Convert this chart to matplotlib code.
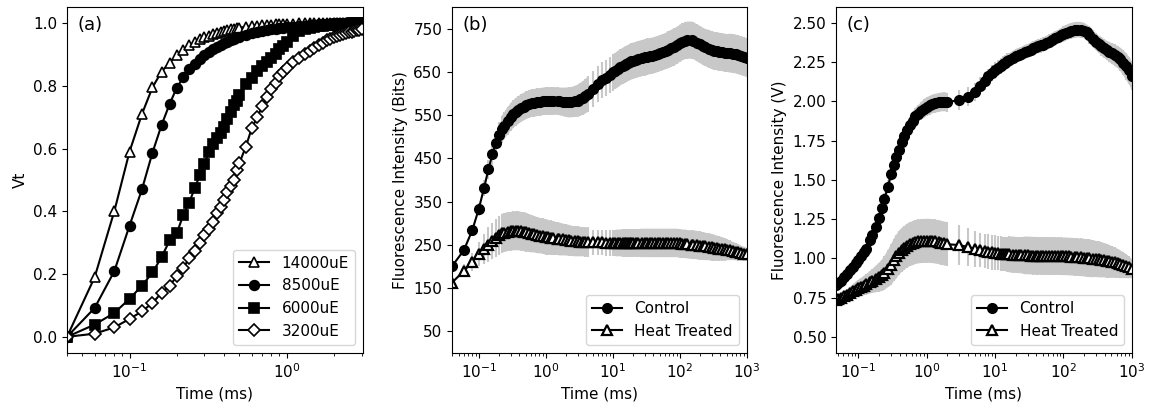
"""
OJIP : Vt normalise selon l'intensite lumineuse (a), puis courbes brutes
Control / Heat Treated avec ecart-type, en Bits (b) et en Volts (c).
"""

import numpy as np
import matplotlib
matplotlib.use("Agg")
import matplotlib.pyplot as plt

plt.rcParams["font.size"] = 11

GRIS = "#c8c8c8"

# ---------------- (a) Vt pour 4 intensites ----------------
t_a = [0.04, 0.06, 0.08, 0.10, 0.12, 0.14, 0.16, 0.18, 0.20, 0.22, 0.24, 0.26,
       0.28, 0.30, 0.32, 0.34, 0.36, 0.38, 0.40, 0.42, 0.44, 0.46, 0.48, 0.50,
       0.55, 0.60, 0.65, 0.70, 0.75, 0.80, 0.85, 0.90, 0.95, 1.0,
       1.1, 1.2, 1.3, 1.4, 1.5, 1.6, 1.7, 1.8, 1.9, 2.0,
       2.1, 2.2, 2.3, 2.4, 2.5, 2.6, 2.7, 2.8, 2.9, 3.0]

vt_14000 = [0, 0.19, 0.40, 0.59, 0.71, 0.795, 0.845, 0.874, 0.898, 0.915, 0.929, 0.94,
            0.948, 0.955, 0.96, 0.965, 0.969, 0.972, 0.975, 0.978, 0.98, 0.982, 0.984, 0.985,
            0.988, 0.99, 0.992, 0.993, 0.994, 0.995, 0.996, 0.997, 0.997, 0.998,
            0.998, 0.999, 1.0, 0.999, 1.0, 1.0, 0.999, 1.0, 1.0, 0.999,
            1.0, 1.0, 1.0, 0.999, 1.0, 1.0, 0.999, 0.998, 0.999, 1.0]
vt_8500 = [0, 0.092, 0.209, 0.354, 0.47, 0.587, 0.675, 0.742, 0.794, 0.827, 0.852, 0.87,
           0.885, 0.897, 0.907, 0.916, 0.924, 0.93, 0.936, 0.941, 0.946, 0.95, 0.954, 0.957,
           0.963, 0.968, 0.972, 0.975, 0.978, 0.98, 0.982, 0.984, 0.985, 0.986,
           0.988, 0.99, 0.992, 0.994, 0.995, 0.996, 0.997, 0.998, 0.998, 0.999,
           1.0, 0.999, 1.0, 1.0, 0.999, 1.0, 1.0, 0.999, 1.0, 1.0]
vt_6000 = [0, 0.039, 0.076, 0.121, 0.163, 0.205, 0.254, 0.307, 0.33, 0.389, 0.428, 0.474,
           0.515, 0.55, 0.59, 0.615, 0.633, 0.65, 0.67, 0.695, 0.718, 0.738, 0.752, 0.77,
           0.805, 0.826, 0.848, 0.862, 0.876, 0.89, 0.902, 0.916, 0.928, 0.94,
           0.96, 0.975, 0.98, 0.985, 0.988, 0.99, 0.992, 0.993, 0.994, 0.995,
           0.996, 0.997, 0.997, 0.998, 0.998, 0.999, 0.999, 1.0, 1.0, 1.0]
vt_3200 = [0, 0.01, 0.03, 0.057, 0.081, 0.108, 0.14, 0.163, 0.193, 0.219, 0.251, 0.275,
           0.30, 0.325, 0.345, 0.366, 0.395, 0.415, 0.436, 0.46, 0.48, 0.5, 0.532, 0.553,
           0.606, 0.665, 0.70, 0.735, 0.765, 0.79, 0.808, 0.83, 0.845, 0.857,
           0.875, 0.887, 0.9, 0.912, 0.922, 0.93, 0.937, 0.945, 0.95, 0.955,
           0.958, 0.962, 0.965, 0.968, 0.97, 0.973, 0.975, 0.977, 0.979, 0.981]

# ---------------- (b) intensite en Bits ----------------
t_b = [0.04, 0.06, 0.08, 0.10, 0.12, 0.14, 0.16, 0.18, 0.20,
       0.22, 0.24, 0.27, 0.30, 0.33, 0.36, 0.39, 0.43, 0.47, 0.51,
       0.56, 0.62, 0.68, 0.75, 0.82, 0.91, 1.0, 1.1, 1.2, 1.3,
       1.5, 1.6, 1.8, 2.0, 2.2, 2.4, 2.7, 3.0, 3.3, 3.6, 3.9, 4.3,
       5, 6, 7, 8, 9, 10,
       11, 12, 13, 14, 15, 16, 17, 18, 19, 20,
       22, 24, 27, 30, 33, 36, 39, 43, 47, 51,
       56, 62, 68, 75, 82, 91, 100, 110, 120, 130,
       150, 160, 180, 200, 220, 240, 270, 300, 330, 360,
       390, 430, 470, 510, 560, 620, 680, 750, 820, 910, 1000]
ctrl_b = [200, 237, 283, 332, 381, 425, 460, 486, 504,
          517, 526, 537, 546, 553, 558, 562, 567, 570, 573,
          576, 578, 579, 580, 581, 582, 583, 583, 583, 583,
          583, 582, 581, 580, 580, 580, 582, 584, 587, 590, 594, 599,
          610, 622, 631, 637, 644, 649,
          653, 657, 661, 664, 667, 669, 671, 673, 675, 676,
          678, 680, 682, 684, 686, 687, 688, 690, 692, 694,
          696, 699, 702, 705, 708, 712, 717, 720, 723, 724,
          724, 723, 718, 714, 710, 707, 704, 701, 699, 698,
          697, 696, 695, 694, 694, 693, 692, 690, 688, 686, 683]
ctrl_b_err = [8, 10, 12, 15, 18, 22, 25, 28, 30,
              31, 31, 32, 32, 32, 32, 32, 32, 32, 32,
              32, 32, 32, 32, 32, 32, 32, 32, 32, 32,
              32, 32, 33, 34, 35, 35, 36, 37, 38, 39, 40, 41,
              42, 42, 42, 42, 42, 42,
              42, 42, 42, 42, 42, 42, 42, 42, 42, 42,
              42, 42, 42, 42, 42, 42, 42, 42, 42, 42,
              42, 42, 43, 43, 43, 43, 43, 43, 43, 43,
              43, 43, 43, 43, 43, 43, 44, 44, 44, 44,
              44, 44, 44, 44, 45, 45, 45, 45, 45, 45, 45]
heat_b = [162, 189, 210, 228, 240, 250, 258, 266, 272,
          276, 278, 280, 281, 282, 282, 282, 281, 280, 279,
          277, 275, 274, 272, 271, 270, 268, 267, 266, 265,
          264, 263, 262, 261, 260, 259, 258, 258, 257, 257, 256, 256,
          255, 255, 255, 254, 254, 254,
          254, 254, 254, 254, 254, 254, 254, 254, 254, 254,
          254, 254, 254, 254, 254, 254, 254, 254, 254, 254,
          254, 254, 254, 254, 254, 254, 253, 252, 252, 251,
          250, 250, 249, 248, 247, 246, 245, 244, 243, 242,
          241, 240, 239, 238, 237, 235, 234, 232, 231, 229, 228]
heat_b_err = [12, 15, 20, 28, 35, 40, 42, 44, 45,
              45, 45, 45, 45, 45, 45, 45, 45, 45, 45,
              44, 43, 42, 42, 41, 41, 41, 40, 40, 39,
              38, 38, 37, 36, 36, 35, 35, 35, 34, 34, 34, 34,
              30, 30, 30, 30, 30, 30,
              31, 31, 31, 32, 32, 32, 32, 32, 32, 32,
              32, 32, 33, 33, 33, 33, 33, 33, 33, 33,
              33, 33, 33, 33, 33, 33, 33, 33, 33, 33,
              33, 33, 33, 33, 32, 32, 31, 31, 30, 29,
              28, 27, 26, 24, 23, 21, 20, 19, 17, 16, 15]

# ---------------- (c) intensite en Volts ----------------
t_c = [0.047, 0.051, 0.056, 0.062, 0.068, 0.075, 0.082, 0.091, 0.10, 0.11,
       0.12, 0.13, 0.15, 0.16, 0.18, 0.20, 0.22, 0.24, 0.27, 0.30,
       0.33, 0.36, 0.39, 0.43, 0.47, 0.51, 0.56, 0.62, 0.68, 0.75,
       0.82, 0.91, 1.0, 1.1, 1.2, 1.3, 1.5, 1.6, 1.8, 2.0,
       3, 4, 5, 6, 7, 8, 9, 10, 11, 12, 13, 14, 15,
       16, 18, 20,
       22, 24, 27, 30, 33, 36, 39, 43, 47, 51,
       56, 62, 68, 75, 82, 91, 100, 110, 120, 130,
       150, 160, 180, 200, 220, 240, 270, 300, 330, 360,
       390, 430, 470, 510, 560, 620, 680, 750, 820, 910, 1000]
ctrl_c = [0.83, 0.843, 0.858, 0.884, 0.902, 0.927, 0.945, 0.968, 0.99, 1.012,
          1.038, 1.062, 1.115, 1.147, 1.203, 1.26, 1.32, 1.38, 1.458, 1.535,
          1.597, 1.645, 1.69, 1.743, 1.782, 1.818, 1.85, 1.878, 1.905, 1.922,
          1.94, 1.955, 1.967, 1.975, 1.984, 1.988, 1.994, 1.997, 1.998, 1.995,
          2.01, 2.03, 2.06, 2.1, 2.13, 2.16, 2.18, 2.2, 2.215, 2.228, 2.238, 2.248, 2.256,
          2.262, 2.275, 2.29,
          2.297, 2.303, 2.315, 2.322, 2.33, 2.34, 2.345, 2.352, 2.357, 2.363,
          2.373, 2.382, 2.392, 2.402, 2.41, 2.421, 2.43, 2.439, 2.446, 2.451,
          2.457, 2.458, 2.457, 2.452, 2.44, 2.423, 2.4, 2.38, 2.365, 2.351,
          2.339, 2.327, 2.315, 2.306, 2.296, 2.283, 2.268, 2.247, 2.225, 2.198, 2.165]
ctrl_c_err = [0.02, 0.02, 0.02, 0.02, 0.02, 0.02, 0.02, 0.02, 0.02, 0.02,
              0.025, 0.025, 0.03, 0.03, 0.03, 0.03, 0.035, 0.035, 0.04, 0.04,
              0.04, 0.045, 0.045, 0.045, 0.05, 0.05, 0.05, 0.055, 0.055, 0.055,
              0.055, 0.06, 0.06, 0.06, 0.06, 0.06, 0.06, 0.06, 0.06, 0.06,
              0.065, 0.06, 0.06, 0.055, 0.055, 0.05, 0.05, 0.05, 0.05, 0.05, 0.05, 0.05, 0.05,
              0.045, 0.045, 0.045,
              0.045, 0.045, 0.045, 0.045, 0.045, 0.045, 0.045, 0.045, 0.045, 0.045,
              0.045, 0.045, 0.045, 0.045, 0.045, 0.045, 0.05, 0.05, 0.05, 0.05,
              0.05, 0.05, 0.05, 0.05, 0.05, 0.055, 0.055, 0.055, 0.055, 0.06,
              0.06, 0.06, 0.065, 0.065, 0.07, 0.07, 0.075, 0.08, 0.085, 0.088, 0.09]
heat_c = [0.733, 0.741, 0.75, 0.761, 0.769, 0.78, 0.789, 0.801, 0.81, 0.818,
          0.827, 0.835, 0.849, 0.856, 0.869, 0.88, 0.892, 0.908, 0.934, 0.96,
          0.99, 1.012, 1.035, 1.054, 1.067, 1.08, 1.09, 1.097, 1.104, 1.108,
          1.11, 1.112, 1.112, 1.112, 1.11, 1.108, 1.103, 1.1, 1.095, 1.09,
          1.085, 1.072, 1.062, 1.054, 1.048, 1.043, 1.039, 1.036, 1.033, 1.031, 1.029,
          1.027, 1.026,
          1.025, 1.024, 1.022,
          1.021, 1.02, 1.019, 1.019, 1.018, 1.017, 1.017, 1.016, 1.016, 1.016,
          1.015, 1.015, 1.015, 1.015, 1.014, 1.014, 1.013, 1.013, 1.012, 1.011,
          1.009, 1.008, 1.007, 1.005, 1.003, 1.001, 0.998, 0.996, 0.994, 0.991,
          0.989, 0.985, 0.982, 0.978, 0.974, 0.968, 0.962, 0.957, 0.951, 0.943, 0.935]
heat_c_err = [0.02, 0.022, 0.026, 0.03, 0.034, 0.04, 0.044, 0.05, 0.055, 0.058,
              0.062, 0.066, 0.072, 0.076, 0.085, 0.092, 0.1, 0.108, 0.118, 0.13,
              0.135, 0.14, 0.14, 0.14, 0.14, 0.14, 0.14, 0.14, 0.14, 0.14,
              0.14, 0.14, 0.14, 0.14, 0.14, 0.14, 0.14, 0.14, 0.14, 0.14,
              0.13, 0.12, 0.115, 0.11, 0.11, 0.11, 0.11, 0.11, 0.11, 0.11, 0.11, 0.11, 0.11,
              0.115, 0.115, 0.115,
              0.115, 0.115, 0.12, 0.12, 0.12, 0.12, 0.12, 0.12, 0.12, 0.12,
              0.12, 0.12, 0.12, 0.12, 0.12, 0.12, 0.12, 0.12, 0.12, 0.12,
              0.12, 0.12, 0.12, 0.12, 0.12, 0.12, 0.118, 0.115, 0.115, 0.112,
              0.11, 0.107, 0.104, 0.1, 0.097, 0.093, 0.088, 0.083, 0.077, 0.07, 0.06]

# zones ou l'echantillonnage est lache (barres d'erreur separees), en ms
TROU_B = (4.5, 10.5)
TROU_C = (2.5, 15.5)
DEBUT_DENSE_B = 0.21


def tracer_erreur(ax, t, y, err, trou, debut=0.0):
    t, y, err = np.asarray(t), np.asarray(y), np.asarray(err)
    ax.errorbar(t, y, yerr=err, fmt="none", ecolor=GRIS, elinewidth=1.5, zorder=1)
    dense = ((t < trou[0]) | (t > trou[1])) & (t >= debut)
    ax.fill_between(t, y - err, y + err, where=dense, color=GRIS, lw=0, zorder=1)


fig = plt.figure(figsize=(11.57, 4.08), dpi=100)
bas, haut = 0.136, 0.846
ax_a = fig.add_axes([0.0579, bas, 0.2556, haut])
ax_b = fig.add_axes([0.3907, bas, 0.2547, haut])
ax_c = fig.add_axes([0.7226, bas, 0.2556, haut])

# (a)
styles_a = [(vt_14000, "^", "white", 7, "14000uE"),
            (vt_8500, "o", "black", 7, "8500uE"),
            (vt_6000, "s", "black", 6.5, "6000uE"),
            (vt_3200, "D", "white", 6, "3200uE")]
for vals, mk, face, taille, lab in styles_a:
    ax_a.plot(t_a, vals, color="black", lw=1.5, marker=mk, ms=taille,
              mfc=face, mec="black", mew=1.2, label=lab)
ax_a.set_xscale("log")
ax_a.set_xlim(0.04, 3.05)
ax_a.set_ylabel("Vt")
ax_a.legend(loc="lower right", fontsize=11)

# (b) et (c)
for ax, t, c, ce, h, he, trou, debut in [
        (ax_b, t_b, ctrl_b, ctrl_b_err, heat_b, heat_b_err, TROU_B, DEBUT_DENSE_B),
        (ax_c, t_c, ctrl_c, ctrl_c_err, heat_c, heat_c_err, TROU_C, 0.0)]:
    tracer_erreur(ax, t, c, ce, trou, debut)
    tracer_erreur(ax, t, h, he, trou, debut)
    ax.plot(t, c, color="black", lw=1.5, marker="o", ms=7, mfc="black",
            zorder=2, label="Control")
    ax.plot(t, h, color="black", lw=1.5, marker="^", ms=7, mfc="white",
            mec="black", mew=1.6, zorder=2, label="Heat Treated")
    ax.set_xscale("log")
    ax.set_xlim(t[0], 1000)
    ax.legend(loc="lower right", fontsize=11)

ax_b.set_ylim(0, 800)
ax_b.set_yticks(np.arange(50, 751, 100))
ax_b.set_ylabel("Fluorescence Intensity (Bits)")

ax_c.set_ylim(0.4, 2.6)
ax_c.set_yticks([0.5, 0.75, 1.0, 1.25, 1.5, 1.75, 2.0, 2.25, 2.5])
ax_c.set_ylabel("Fluorescence Intensity (V)")

for ax, lettre in [(ax_a, "(a)"), (ax_b, "(b)"), (ax_c, "(c)")]:
    ax.set_xlabel("Time (ms)")
    ax.text(0.035, 0.95, lettre, transform=ax.transAxes, fontsize=13,
            ha="left", va="center")

fig.savefig("out.png", dpi=100)
